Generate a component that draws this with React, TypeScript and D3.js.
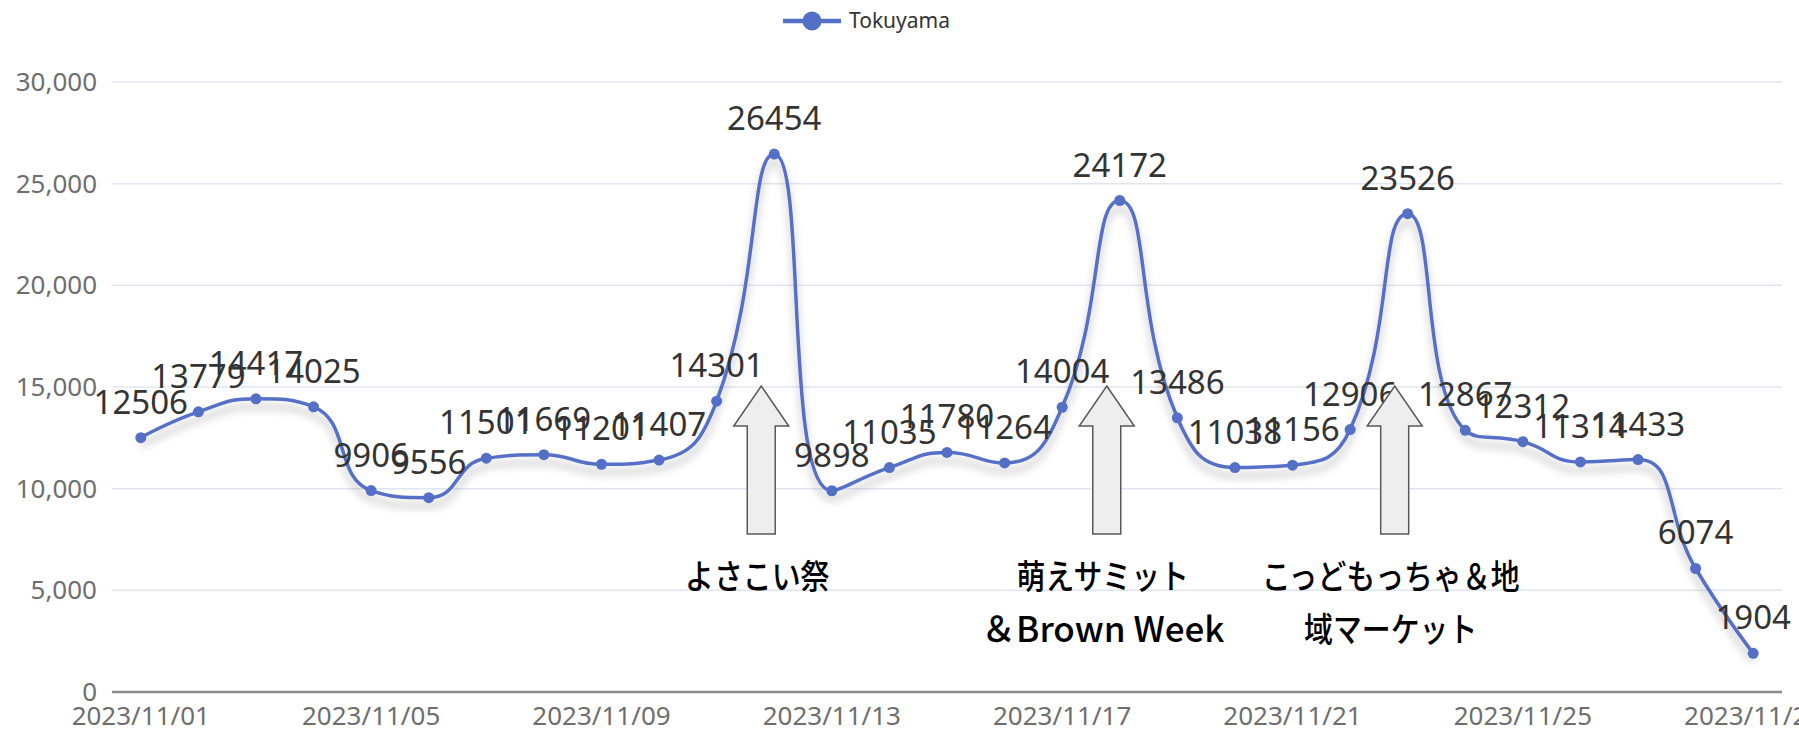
import React from 'react';
import * as d3 from 'd3';

const W = 1799,
      H = 732;

const seriesName = 'Tokuyama';

const dates = [
  '2023/11/01', '2023/11/02', '2023/11/03', '2023/11/04', '2023/11/05',
  '2023/11/06', '2023/11/07', '2023/11/08', '2023/11/09', '2023/11/10',
  '2023/11/11', '2023/11/12', '2023/11/13', '2023/11/14', '2023/11/15',
  '2023/11/16', '2023/11/17', '2023/11/18', '2023/11/19', '2023/11/20',
  '2023/11/21', '2023/11/22', '2023/11/23', '2023/11/24', '2023/11/25',
  '2023/11/26', '2023/11/27', '2023/11/28', '2023/11/29'
];

const visitors = [
  12506, 13779, 14417, 14025, 9906,
  9556, 11501, 11669, 11201, 11407,
  14301, 26454, 9898, 11035, 11780,
  11264, 14004, 24172, 13486, 11038,
  11156, 12906, 23526, 12867, 12312,
  11314, 11433, 6074, 1904
];

const yTicks = [0, 5000, 10000, 15000, 20000, 25000, 30000];

// every 4th day gets a label
const xTickDates = ['2023/11/01', '2023/11/05', '2023/11/09', '2023/11/13',
                    '2023/11/17', '2023/11/21', '2023/11/25', '2023/11/29'];

const events = [
  { date: '2023/11/12', lines: ['よさこい祭'] },
  { date: '2023/11/18', lines: ['萌えサミット', '＆Brown Week'] },
  { date: '2023/11/23', lines: ['こっどもっちゃ＆地', '域マーケット'] }
];

const blue = '#5470c6';
const numFont = '"Noto Sans", "Open Sans", sans-serif';
const jpFont = '"Noto Sans CJK JP", sans-serif';

// echarts-style smoothing (smooth = 0.5, control points clamped between neighbours)
function smoothCurve(context) {
  let pts = [];
  const smooth = 0.5;
  return {
    areaStart() {},
    areaEnd() {},
    lineStart() { pts = []; },
    point(x, y) { pts.push([+x, +y]); },
    lineEnd() {
      let cpx0 = 0, cpy0 = 0;
      for (let i = 0; i < pts.length; i++) {
        const [x, y] = pts[i];
        if (i === 0) {
          context.moveTo(x, y);
          cpx0 = x; cpy0 = y;
          continue;
        }
        const [prevX, prevY] = pts[i - 1];
        let cpx1, cpy1, nextCpx0, nextCpy0;
        if (i === pts.length - 1) {
          cpx1 = x; cpy1 = y;
          nextCpx0 = x; nextCpy0 = y;
        } else {
          const [nextX, nextY] = pts[i + 1];
          let vx = nextX - prevX, vy = nextY - prevY;
          const lenPrev = Math.hypot(x - prevX, y - prevY);
          const lenNext = Math.hypot(nextX - x, nextY - y);
          const ratio = lenNext / (lenNext + lenPrev);
          nextCpx0 = x + vx * smooth * ratio;
          nextCpy0 = y + vy * smooth * ratio;
          nextCpx0 = Math.min(nextCpx0, Math.max(nextX, x));
          nextCpy0 = Math.min(nextCpy0, Math.max(nextY, y));
          nextCpx0 = Math.max(nextCpx0, Math.min(nextX, x));
          nextCpy0 = Math.max(nextCpy0, Math.min(nextY, y));
          vx = nextCpx0 - x; vy = nextCpy0 - y;
          cpx1 = x - vx * lenPrev / lenNext;
          cpy1 = y - vy * lenPrev / lenNext;
          cpx1 = Math.min(cpx1, Math.max(prevX, x));
          cpy1 = Math.min(cpy1, Math.max(prevY, y));
          cpx1 = Math.max(cpx1, Math.min(prevX, x));
          cpy1 = Math.max(cpy1, Math.min(prevY, y));
          vx = x - cpx1; vy = y - cpy1;
          nextCpx0 = x + vx * lenNext / lenPrev;
          nextCpy0 = y + vy * lenNext / lenPrev;
        }
        context.bezierCurveTo(cpx0, cpy0, cpx1, cpy1, x, y);
        cpx0 = nextCpx0; cpy0 = nextCpy0;
      }
    }
  };
}

const x = d3.scaleBand().domain(dates).range([112, 1782]);
const y = d3.scaleLinear().domain([0, 30000]).range([692, 82]);
const cx = d => x(d) + x.bandwidth() / 2;

const line = d3.line()
  .x((d, i) => cx(dates[i]))
  .y(d => y(d))
  .curve(smoothCurve);

const fmt = d3.format(',');

function Arrow({ at }) {
  const tip = 386, head = 426, bottom = 534, hw = 27.5, sw = 14;
  const pts = [[at, tip], [at + hw, head], [at + sw, head], [at + sw, bottom],
               [at - sw, bottom], [at - sw, head], [at - hw, head]];
  return <polygon points={pts.map(p => p.join(',')).join(' ')}
                  fill="#eeeeee" stroke="#595959" strokeWidth={1.5} />;
}

export default function App() {
  const [x0, x1] = x.range();
  return (
    <svg width={W} height={H} style={{ position: 'absolute', left: 0, top: 0, background: '#fff' }}>
      <defs>
        <filter id="shadow" x="-5%" y="-20%" width="110%" height="140%">
          <feDropShadow dx="0" dy="8" stdDeviation="4" floodColor="#000" floodOpacity="0.28" />
        </filter>
      </defs>

      {/* legend */}
      <g transform="translate(0,21)">
        <line x1={783} x2={841} y1={0} y2={0} stroke={blue} strokeWidth={4.5} />
        <circle cx={812} cy={0} r={9.5} fill={blue} />
        <text x={849} y={0} dy="0.35em" fontFamily={numFont} fontSize={21} fill="#333">{seriesName}</text>
      </g>

      {/* grid + y labels */}
      {yTicks.map(t => (
        <g key={t}>
          {t > 0 && <line x1={x0} x2={x1} y1={y(t)} y2={y(t)} stroke="#e0e6f1" strokeWidth={1.5} />}
          <text x={97} y={y(t)} dy="0.35em" textAnchor="end" fontFamily={numFont}
                fontSize={26} fill="#6e6e6e">{fmt(t)}</text>
        </g>
      ))}
      <line x1={x0} x2={x1} y1={y(0)} y2={y(0)} stroke="#8c8c8c" strokeWidth={2.5} />

      {xTickDates.map(d => (
        <text key={d} x={cx(d)} y={725} textAnchor="middle" fontFamily={numFont}
              fontSize={26} fill="#6e6e6e">{d}</text>
      ))}

      {/* series */}
      <path d={line(visitors)} fill="none" stroke={blue} strokeWidth={3.5} filter="url(#shadow)" />
      {visitors.map((v, i) => (
        <circle key={i} cx={cx(dates[i])} cy={y(v)} r={5.5} fill={blue} />
      ))}
      {visitors.map((v, i) => (
        <text key={'l' + i} x={cx(dates[i])} y={y(v) - 24} textAnchor="middle"
              fontFamily={numFont} fontSize={33} fill="#333">{v}</text>
      ))}

      {/* event annotations */}
      {events.map(e => {
        const ax = cx(e.date) - 13;
        return (
          <g key={e.date}>
            <Arrow at={ax} />
            {e.lines.map((t, k) => {
              const latin = /[A-Za-z]/.test(t);
              return (
                <text key={k} x={0} y={0} textAnchor="middle"
                      transform={`translate(${ax - 4},${589 + k * 53}) scale(${latin ? 1 : 0.85},1)`}
                      fontFamily={jpFont} fontWeight={500} fontSize={latin ? 35 : 34} fill="#000">{t}</text>
              );
            })}
          </g>
        );
      })}
    </svg>
  );
}
